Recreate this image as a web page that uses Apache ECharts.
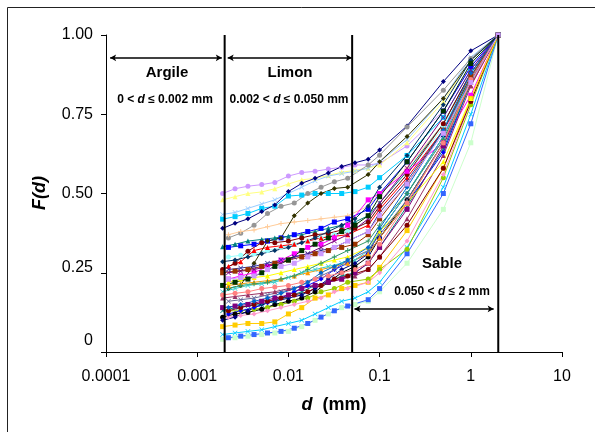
<!DOCTYPE html>
<html><head><meta charset="utf-8">
<script src="https://cdn.jsdelivr.net/npm/echarts@6/dist/echarts.min.js"></script>
<style>html,body{margin:0;padding:0;background:#fff}#c{width:595px;height:432px}</style>
</head><body><div id="c"></div>
<script>
// ---- data ----
const xTickLabels = ['0.0001','0.001','0.01','0.1','1','10'];
const yTickLabels = ['0','0.25','0.50','0.75','1.00'];
const boundaries = [0.002, 0.05, 2];
const dGridA = [0.0019,0.0026,0.0036,0.0051,0.0071,0.01,0.014,0.0196,0.0274,0.0384,0.0537,0.075,0.1,0.2,0.5,1,2];
const dGridB = [0.0022,0.003,0.0042,0.0059,0.0083,0.0116,0.0163,0.0228,0.0319,0.0447,0.075,0.1,0.2,0.5,1,2];

const S01 = [0.50,0.515,0.523,0.528,0.535,0.555,0.566,0.57,0.577,0.583,0.59,0.59,0.595,0.65,0.76,0.90,1];
const S02 = [0.48,0.49,0.50,0.505,0.515,0.53,0.543,0.548,0.557,0.567,0.573,0.58,0.59,0.66,0.79,0.92,1];
const S03 = [0.434,0.44,0.453,0.467,0.48,0.50,0.52,0.54,0.555,0.563,0.57,0.58,0.60,0.67,0.80,0.93,1];
const S04 = [0.419,0.427,0.437,0.453,0.46,0.492,0.495,0.50,0.50,0.50,0.506,0.52,0.55,0.62,0.74,0.89,1];
const S05 = [0.39,0.406,0.42,0.443,0.464,0.506,0.532,0.548,0.565,0.585,0.597,0.608,0.637,0.713,0.853,0.95,1];
const S06 = [0.36,0.375,0.40,0.437,0.46,0.47,0.50,0.52,0.537,0.548,0.59,0.621,0.71,0.826,0.926,1];
const S07 = [0.37,0.38,0.385,0.395,0.405,0.41,0.415,0.42,0.425,0.43,0.46,0.50,0.58,0.72,0.87,1];
const S08 = [0.33,0.335,0.34,0.35,0.36,0.37,0.38,0.39,0.41,0.42,0.45,0.50,0.60,0.76,0.90,1];
const S09 = [0.332,0.34,0.35,0.355,0.36,0.365,0.37,0.38,0.39,0.40,0.41,0.43,0.47,0.57,0.72,0.88,1];
const S10 = [0.30,0.305,0.31,0.32,0.33,0.34,0.35,0.36,0.37,0.38,0.41,0.46,0.56,0.71,0.87,1];
const S11 = [0.27,0.285,0.32,0.33,0.335,0.34,0.35,0.36,0.365,0.37,0.40,0.45,0.55,0.70,0.84,1];
const S12 = [0.26,0.28,0.318,0.345,0.345,0.35,0.36,0.37,0.374,0.385,0.39,0.41,0.46,0.56,0.72,0.88,1];
const S13 = [0.20,0.21,0.28,0.35,0.36,0.43,0.47,0.50,0.516,0.52,0.56,0.60,0.68,0.80,0.92,1];
const S14 = [0.23,0.24,0.25,0.27,0.29,0.31,0.33,0.34,0.36,0.40,0.48,0.50,0.57,0.66,0.81,1];
const S15 = [0.25,0.255,0.26,0.27,0.28,0.30,0.31,0.33,0.35,0.37,0.42,0.47,0.58,0.74,0.89,1];
const S16 = [0.17,0.175,0.18,0.185,0.19,0.20,0.205,0.21,0.22,0.23,0.24,0.26,0.30,0.42,0.62,0.84,1];
const S17 = [0.26,0.265,0.27,0.28,0.29,0.30,0.31,0.32,0.33,0.35,0.38,0.44,0.54,0.70,0.86,1];
const S18 = [0.08,0.085,0.09,0.09,0.095,0.12,0.14,0.17,0.18,0.20,0.21,0.22,0.267,0.383,0.58,0.80,1];
const S19 = [0.04,0.045,0.05,0.055,0.06,0.065,0.08,0.10,0.12,0.14,0.15,0.16,0.19,0.28,0.45,0.66,1];
const S20 = [0.045,0.05,0.055,0.06,0.065,0.075,0.09,0.11,0.13,0.145,0.165,0.20,0.31,0.50,0.72,1];
const S21 = [0.055,0.06,0.065,0.07,0.08,0.09,0.10,0.12,0.14,0.16,0.17,0.19,0.22,0.33,0.52,0.75,1];
const S22 = [0.13,0.13,0.135,0.14,0.15,0.16,0.17,0.19,0.20,0.22,0.23,0.26,0.324,0.55,0.78,1];
const S23 = [0.11,0.115,0.12,0.13,0.14,0.15,0.16,0.17,0.19,0.20,0.22,0.25,0.35,0.56,0.79,1];
const S24 = [0.11,0.12,0.125,0.135,0.15,0.16,0.17,0.19,0.22,0.25,0.27,0.30,0.36,0.48,0.66,0.86,1];
const S25 = [0.10,0.11,0.13,0.15,0.16,0.17,0.18,0.20,0.23,0.26,0.28,0.31,0.38,0.50,0.68,0.87,1];
const S26 = [0.12,0.13,0.14,0.155,0.17,0.19,0.21,0.23,0.26,0.28,0.31,0.36,0.47,0.63,0.85,1];
const S27 = [0.13,0.14,0.145,0.15,0.16,0.175,0.19,0.21,0.22,0.24,0.25,0.28,0.33,0.46,0.64,0.85,1];
const S28 = [0.13,0.14,0.15,0.16,0.17,0.18,0.19,0.21,0.23,0.24,0.26,0.30,0.40,0.58,0.79,1];
const S29 = [0.14,0.145,0.15,0.16,0.17,0.18,0.20,0.21,0.22,0.23,0.25,0.28,0.33,0.45,0.65,0.86,1];
const S30 = [0.21,0.215,0.22,0.225,0.23,0.24,0.25,0.26,0.27,0.28,0.31,0.36,0.47,0.66,0.85,1];
const S31 = [0.19,0.20,0.21,0.215,0.22,0.235,0.25,0.26,0.27,0.28,0.29,0.32,0.38,0.50,0.68,0.87,1];
const S32 = [0.22,0.23,0.235,0.24,0.25,0.26,0.27,0.28,0.29,0.30,0.33,0.38,0.47,0.60,0.80,1];
const S33 = [0.20,0.21,0.215,0.22,0.23,0.24,0.26,0.28,0.30,0.32,0.35,0.40,0.50,0.67,0.86,1];
const S34 = [0.25,0.255,0.26,0.27,0.28,0.29,0.30,0.31,0.32,0.33,0.34,0.37,0.42,0.53,0.70,0.87,1];
const S35 = [0.285,0.29,0.30,0.31,0.32,0.33,0.345,0.36,0.38,0.40,0.42,0.46,0.52,0.62,0.78,0.92,1];
const S36 = [0.16,0.165,0.17,0.18,0.19,0.20,0.22,0.24,0.26,0.29,0.32,0.37,0.48,0.66,0.86,1];
const S37 = [0.18,0.185,0.19,0.20,0.205,0.21,0.22,0.23,0.24,0.25,0.26,0.28,0.34,0.47,0.66,0.86,1];
const S38 = [0.14,0.15,0.16,0.17,0.185,0.20,0.22,0.25,0.27,0.29,0.33,0.39,0.52,0.70,0.88,1];
const S39 = [0.21,0.22,0.23,0.25,0.27,0.29,0.32,0.34,0.36,0.38,0.40,0.43,0.49,0.60,0.76,0.91,1];
const S40 = [0.23,0.235,0.24,0.26,0.27,0.28,0.30,0.31,0.33,0.35,0.38,0.43,0.53,0.69,0.85,1];

const curves = [S01,S02,S03,S04,S05,S06,S07,S08,S09,S10,S11,S12,S13,S14,S15,S16,S17,S18,S19,S20,
                S21,S22,S23,S24,S25,S26,S27,S28,S29,S30,S31,S32,S33,S34,S35,S36,S37,S38,S39,S40];

// ---- styles ----
const X = 'path://M0,1L1,0L5,4L9,0L10,1L6,5L10,9L9,10L5,6L1,10L0,9L4,5Z';
const P = 'path://M4,0H6V4H10V6H6V10H4V6H0V4H4Z';
const styles = [
 ['#CC99FF','circle'],['#FFFF80','triangle'],['#99CCFF',X],['#00CCFF','rect'],['#000080','diamond'],
 ['#969696','circle'],['#FFCC99',P],['#0000FF','rect'],['#008080','triangle'],['#99FFFF','circle'],
 ['#FF0000','triangle'],['#800000','circle'],['#333300','diamond'],['#FF00FF','rect'],['#800080',X],
 ['#993366','triangle'],['#333399',X],['#FFCC00','rect'],['#CCFFCC','rect'],['#3366FF','rect'],
 ['#00CCFF',X],['#99CC00','circle'],['#FF99CC','diamond'],['#000000','circle'],['#000080','diamond'],
 ['#0000FF','diamond'],['#008080',X],['#800000','circle'],['#800080','rect'],['#FF9900','triangle'],
 ['#33CCCC',X],['#FFFF00','triangle'],['#339966',P],['#993300','rect'],['#003366','diamond'],
 ['#666699',X],['#FF8080','circle'],['#0066CC','diamond'],['#003300','rect'],['#CC99FF','rect']
];

const series = curves.map((v, i) => {
  const grid = v.length === dGridA.length ? dGridA : dGridB;
  return {
    type: 'line', data: v.map((f, k) => [grid[k], f]),
    symbol: styles[i][1], symbolSize: 5, showSymbol: true,
    lineStyle: { width: 1, color: styles[i][0] },
    itemStyle: { color: styles[i][0] }, z: 2, silent: true, animation: false
  };
});

boundaries.forEach(b => {
  series.push({
    type: 'line', data: [[b, 0], [b, 1]], symbol: 'none',
    lineStyle: { width: 2, color: '#000' }, z: 5, silent: true, animation: false
  });
});

const arrowY1 = 0.928, arrowY2 = 0.136;
series.push({
  type: 'line', data: [], silent: true, animation: false,
  markLine: {
    silent: true, animation: false, symbol: ['arrow','arrow'], symbolSize: [5, 6],
    lineStyle: { color: '#000', width: 1.5, type: 'solid' }, label: { show: false },
    data: [
      [{ coord: [0.000111, arrowY1] }, { coord: [0.00186, arrowY1] }],
      [{ coord: [0.00216, arrowY1] }, { coord: [0.0496, arrowY1] }],
      [{ coord: [0.053, arrowY2] }, { coord: [1.78, arrowY2] }]
    ]
  }
});

const chart = echarts.init(document.getElementById('c'), null, { renderer: 'canvas' });
const F = 'Arial, "Liberation Sans", sans-serif';
chart.setOption({
  animation: false,
  grid: { left: 106, top: 35, width: 456, height: 317 },
  xAxis: {
    type: 'log', logBase: 10, min: 0.0001, max: 10,
    axisLine: { lineStyle: { color: '#000', width: 1 } },
    axisTick: { show: true, length: 5, lineStyle: { color: '#000' } },
    minorTick: { show: false }, splitLine: { show: false },
    axisLabel: { color: '#000', fontSize: 16, fontFamily: F, margin: 17,
      formatter: v => xTickLabels[Math.round(Math.log10(v)) + 4] }
  },
  yAxis: {
    type: 'value', min: 0, max: 1, interval: 0.25,
    axisLine: { show: true, lineStyle: { color: '#000', width: 1 } },
    axisTick: { show: true, length: 5, lineStyle: { color: '#000' } },
    splitLine: { show: false },
    axisLabel: { color: '#000', fontSize: 16, fontFamily: F, margin: 13,
      formatter: v => { const i = Math.round(v / 0.25); const t = yTickLabels[i];
        if (i === 0) return '{z|' + t + '}'; if (i === 1) return '{q|' + t + '}'; return t; },
      rich: { z: { fontSize: 16, fontFamily: F, color: '#000', padding: [0, 0, 23, 0] },
              q: { fontSize: 16, fontFamily: F, color: '#000', padding: [0, 0, 10, 0] } } }
  },
  series: series,
  graphic: [
    { type: 'rect', shape: { x: 7.5, y: 7.5, width: 700, height: 600 }, style: { fill: 'none', stroke: '#222', lineWidth: 1 }, z: 0 },
    { type: 'text', x: 167, y: 73, style: { text: 'Argile', font: 'bold 15px ' + F, fill: '#000', textAlign: 'center', textVerticalAlign: 'middle' } },
    { type: 'text', x: 290, y: 73, style: { text: 'Limon', font: 'bold 15px ' + F, fill: '#000', textAlign: 'center', textVerticalAlign: 'middle' } },
    { type: 'text', x: 442, y: 264, style: { text: 'Sable', font: 'bold 15px ' + F, fill: '#000', textAlign: 'center', textVerticalAlign: 'middle' } },
    { type: 'text', x: 165, y: 100, style: { text: '{b|0 < }{i|d}{b| ≤ 0.002 mm}', textAlign: 'center', textVerticalAlign: 'middle',
        rich: { b: { font: 'bold 12px ' + F, fill: '#000' }, i: { font: 'italic bold 12px ' + F, fill: '#000' } } } },
    { type: 'text', x: 289, y: 100, style: { text: '{b|0.002 < }{i|d}{b| ≤ 0.050 mm}', textAlign: 'center', textVerticalAlign: 'middle',
        rich: { b: { font: 'bold 12px ' + F, fill: '#000' }, i: { font: 'italic bold 12px ' + F, fill: '#000' } } } },
    { type: 'text', x: 442, y: 292, style: { text: '{b|0.050 < }{i|d}{b| ≤ 2 mm}', textAlign: 'center', textVerticalAlign: 'middle',
        rich: { b: { font: 'bold 12px ' + F, fill: '#000' }, i: { font: 'italic bold 12px ' + F, fill: '#000' } } } },
    { type: 'text', x: 40, y: 193, rotation: Math.PI / 2, style: { text: 'F(d)', font: 'italic bold 18px ' + F, fill: '#000', textAlign: 'center', textVerticalAlign: 'middle' } },
    { type: 'text', x: 334, y: 405, style: { text: '{i|d}{b|  (mm)}', textAlign: 'center', textVerticalAlign: 'middle',
        rich: { b: { font: 'bold 18px ' + F, fill: '#000' }, i: { font: 'italic bold 18px ' + F, fill: '#000' } } } }
  ]
});
</script></body></html>
